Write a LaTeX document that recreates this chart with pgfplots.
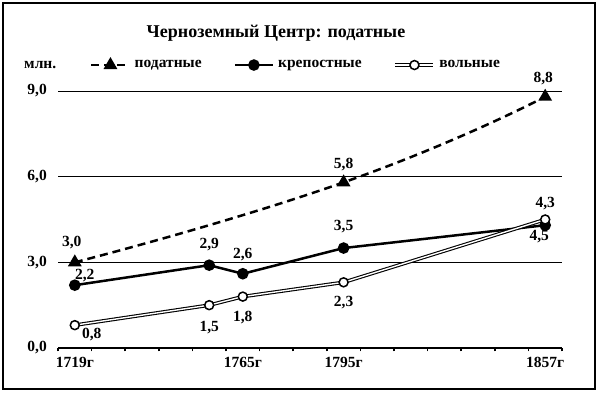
\documentclass[border=0pt]{standalone}
\usepackage{fontspec}
\setmainfont{Liberation Serif}
\usepackage{pgfplots}
\pgfplotsset{compat=1.18}
\usepackage{pgfplotstable}

\pgfplotstableread{
x y dx dy
0 3.0 -3 20
8 5.8 0 18
14 8.8 -2 18
}\podat
\pgfplotstableread{
x y dx dy
0 2.2 10 10
4 2.9 0 21
5 2.6 0 19
8 3.5 0 21
14 4.3 0 22
}\krep
\pgfplotstableread{
x y dx dy
0 0.8 17 -9
4 1.5 0 -22
5 1.8 0 -21
8 2.3 0 -20
14 4.5 -6 -17
}\voln

\newcommand{\lblfont}{\bfseries\fontsize{15.5}{17}\selectfont}

\pgfplotsset{
  lbl/.style={
    point meta=y,
    visualization depends on={\thisrow{dx}\as\dx},
    visualization depends on={\thisrow{dy}\as\dy},
    nodes near coords={\pgfmathprintnumber[fixed,fixed zerofill,precision=1,use comma]{\pgfplotspointmeta}},
    every node near coord/.append style={anchor=center, font=\lblfont, text=black, solid, xshift=\dx pt, yshift=\dy pt},
  },
  leglinepic/.style={legend image code/.code={\draw[##1, mark repeat=2, mark phase=2] plot coordinates {(0pt,0pt)(19pt,0pt)(38pt,0pt)};}},
  legvolpic/.style={legend image code/.code={\draw[black,line width=3.6pt] (0pt,0pt)--(38pt,0pt); \draw[white,line width=1.4pt] (0pt,0pt)--(38pt,0pt); \draw[black,fill=white,line width=1.5pt] (19pt,0pt) circle (4.5pt);}},
}

\begin{document}
\begin{tikzpicture}
\useasboundingbox (0pt,0pt) rectangle (600pt,398pt);
\draw[line width=2pt] (3pt,9pt) rectangle (595pt,395pt);
\node[font=\bfseries\fontsize{18}{20}\selectfont] at (276pt,365pt) {Черноземный Центр: податные};
\node[anchor=west, font=\lblfont, inner sep=0pt] at (24pt,333pt) {млн.};
\begin{axis}[
  at={(58pt,50pt)}, anchor=south west,
  scale only axis, width=504pt, height=257pt,
  xmin=-0.5, xmax=14.5, ymin=0, ymax=9,
  axis x line*=bottom, axis y line*=left,
  x axis line style={line width=2.5pt,-},
  y axis line style={draw=none},
  xtick={0,5,8,14}, xticklabels={1719г,1765г,1795г,1857г},
  minor xtick={-0.5,0.5,...,14.5},
  major tick length=0pt, minor tick length=3.5pt, tick align=outside,
  minor tick style={line width=1.6pt, black},
  ytick={0,3,6,9}, yticklabels={{0,0},{3,0},{6,0},{9,0}},
  ytick style={draw=none},
  ymajorgrids, grid style={black, line width=0.9pt},
  tick label style={font=\lblfont, inner sep=0pt},
  yticklabel style={anchor=east, xshift=-11pt},
  xticklabel style={anchor=north, yshift=-9pt},
  /pgf/number format/assume math mode=true,
  clip=false,
  legend columns=3,
  legend style={at={(0.0635,1.101)}, anchor=west, draw=none, fill=none,
    font=\lblfont, inner sep=0pt,
    /tikz/every odd column/.append style={column sep=2pt},
    /tikz/every even column/.append style={column sep=30pt}},
  legend cell align=left,
]
\addplot[black, line width=2.5pt, dash pattern=on 8pt off 5pt, smooth, tension=0.9,
  mark=triangle*, mark size=5.5pt, mark options={solid}, lbl, leglinepic
] table[x=x,y=y]{\podat};
\addlegendentry{податные}
\addplot[black, line width=2.5pt, mark=*, mark size=4.5pt, lbl, leglinepic
] table[x=x,y=y]{\krep};
\addlegendentry{крепостные}
\addplot[black, line width=3.6pt, forget plot] table[x=x,y=y]{\voln};
\addplot[white, line width=1.4pt, forget plot] table[x=x,y=y]{\voln};
\addplot[only marks, mark=*, mark size=4.5pt, mark options={draw=black, fill=white, line width=1.5pt}, lbl, legvolpic
] table[x=x,y=y]{\voln};
\addlegendentry{вольные}
\end{axis}
\end{tikzpicture}
\end{document}
